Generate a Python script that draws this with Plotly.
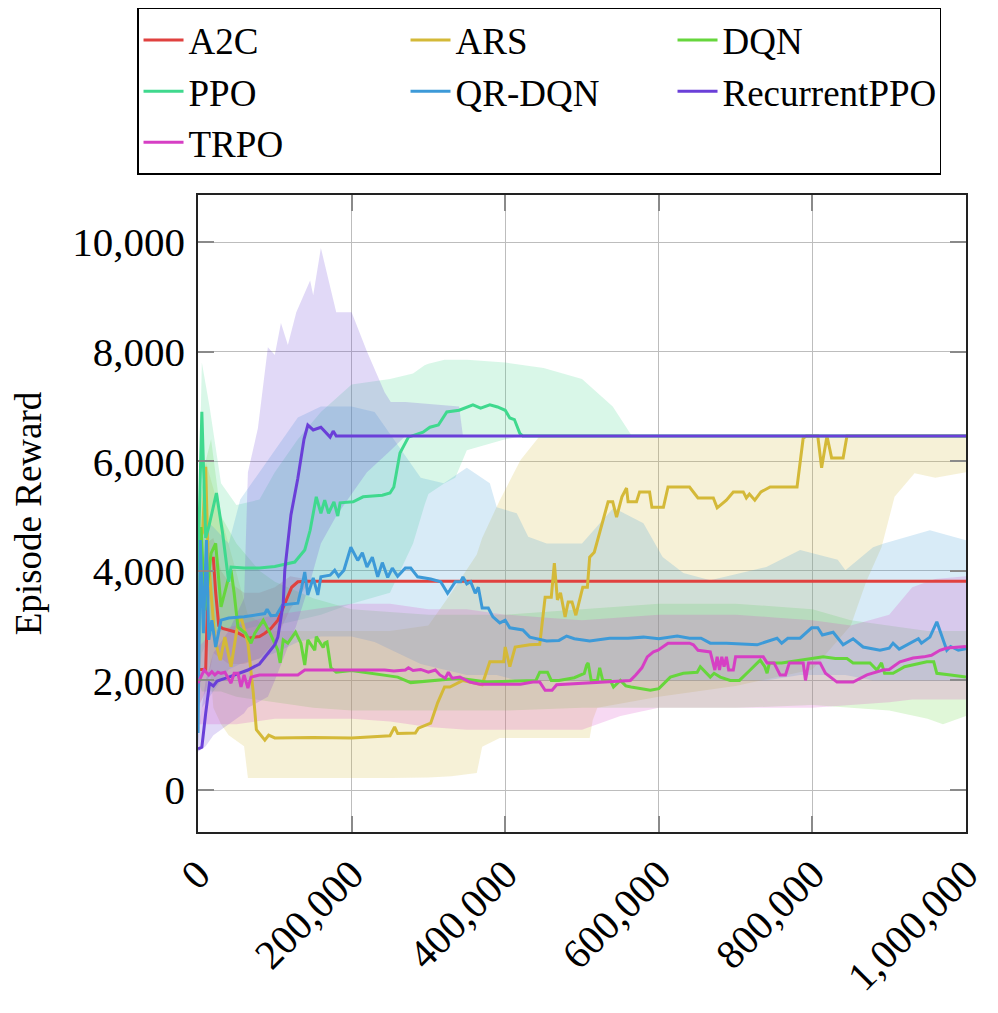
import plotly.graph_objects as go

# step values are in thousands of timesteps, rewards in raw units

# ---- A2C
a2c_steps = [0, 10, 14, 20, 23, 27, 32, 40, 50, 65, 80, 87, 95, 104, 115, 122, 130, 140, 1000]
a2c_mean = [2200, 2200, 4230, 4230, 3600, 3000, 2950, 2920, 2880, 2770, 2800, 2860, 2950, 3100, 3470, 3700, 3800, 3810, 3810]
a2c_band_steps = [0, 10, 20, 30, 40, 60, 80, 100, 120, 140, 150, 1000]
a2c_lo = [1500, 1800, 2500, 2400, 2300, 2300, 2400, 2700, 3300, 3700, 3810, 3810]
a2c_hi = [3000, 4500, 4600, 4000, 3800, 3600, 3600, 3700, 3900, 3850, 3810, 3810]

# ---- ARS
ars_steps = [0, 6, 10, 13, 22, 29, 35, 43, 52, 56,
             65, 72, 76, 87, 92, 100, 150, 200, 250, 256,
             260, 283, 287, 303, 312, 321, 328, 339, 345, 370,
             380, 398, 400, 406, 413, 432, 445, 452, 460, 464,
             468, 472, 478, 482, 487, 492, 501, 507, 510, 516,
             523, 534, 540, 545, 552, 558, 560, 571, 575, 588,
             591, 606, 612, 640, 651, 671, 676, 688, 697, 710,
             714, 718, 725, 733, 745, 780, 788, 792, 807, 812,
             819, 825, 840, 845, 1000]
ars_mean = [4500, 4700, 5900, 4300, 2740, 2370, 2790, 2250, 3050, 3160,
            2680, 1770, 1100, 910, 1000, 950, 960, 950, 990, 1150,
            1030, 1040, 1130, 1220, 1590, 1880, 1880, 1950, 2000, 1920,
            2340, 2340, 2610, 2250, 2610, 2650, 2660, 3520, 3520, 4140,
            3470, 3600, 3160, 3430, 3430, 3190, 3700, 3700, 4250, 4340,
            4690, 5260, 5260, 4980, 5350, 5510, 5260, 5260, 5440, 5440,
            5160, 5160, 5530, 5530, 5330, 5330, 5150, 5290, 5440, 5440,
            5330, 5400, 5290, 5440, 5530, 5530, 6420, 6460, 6460, 5880,
            6460, 6060, 6060, 6460, 6460]
ars_band_steps = [0, 10, 20, 30, 40, 50, 60, 65, 100, 150,
                  200, 250, 300, 315, 330, 363, 370, 393, 420, 445,
                  510, 514, 520, 600, 700, 800, 850, 870, 890, 907,
                  933, 960, 1000]
ars_lo = [3500, 3200, 1500, 1200, 1000, 900, 800, 220, 220, 220,
          220, 220, 230, 240, 250, 310, 790, 950, 950, 950,
          950, 1280, 1500, 1700, 1900, 2200, 3000, 3800, 4430, 5350,
          5780, 5700, 5800]
ars_hi = [5000, 6000, 5500, 5000, 4500, 4000, 3500, 3200, 2900, 2900,
          2900, 2900, 3000, 3300, 3600, 4300, 4600, 5290, 6020, 6460,
          6460, 6460, 6460, 6460, 6460, 6460, 6460, 6460, 6460, 6460,
          6460, 6460, 6460]

# ---- DQN
dqn_steps = [0, 4, 9, 17, 23, 30, 39, 43, 47, 52,
             62, 69, 74, 85, 94, 104, 107, 111, 117, 127,
             134, 139, 143, 152, 154, 163, 165, 168, 173, 180,
             200, 260, 277, 340, 376, 440, 445, 455, 460, 470,
             490, 503, 506, 508, 512, 520, 523, 527, 537, 541,
             550, 557, 564, 589, 600, 615, 632, 650, 654, 667,
             672, 680, 693, 705, 719, 732, 738, 741, 744, 760,
             784, 814, 830, 845, 853, 875, 884, 890, 894, 905,
             920, 949, 958, 962, 980, 1000]
dqn_mean = [2300, 4800, 3280, 4320, 4500, 3340, 3830, 4010, 3600, 2970,
            2860, 2680, 2860, 3100, 2860, 2550, 2320, 2740, 2680, 2880,
            2680, 2280, 2740, 2550, 2800, 2600, 2680, 2700, 2230, 2150,
            2180, 2060, 1960, 2040, 1970, 2000, 2150, 2150, 2000, 2000,
            2050, 2130, 2280, 2320, 2000, 2000, 2230, 2000, 2000, 1880,
            2000, 1900, 1880, 1820, 1850, 2060, 2130, 2150, 2250, 2060,
            2130, 2060, 2000, 2000, 2190, 2370, 2250, 2130, 2320, 2320,
            2370, 2430, 2400, 2400, 2320, 2320, 2190, 2320, 2130, 2130,
            2250, 2340, 2340, 2130, 2100, 2060]
dqn_band_steps = [0, 5, 10, 17, 30, 50, 80, 100, 150, 200,
                  300, 400, 500, 600, 700, 800, 850, 900, 950, 970, 1000]
dqn_lo = [2000, 1800, 1800, 1800, 1800, 1700, 1650, 1600, 1500, 1450,
          1450, 1450, 1500, 1500, 1500, 1550, 1500, 1450, 1300, 1200, 1350]
dqn_hi = [3500, 5500, 6000, 6400, 5000, 4500, 4000, 3800, 3500, 3300,
          3200, 3200, 3300, 3400, 3400, 3300, 3100, 3000, 2900, 2900, 2900]

# ---- PPO
ppo_steps = [0, 5, 10, 14, 24, 32, 40, 43, 60, 80,
             100, 126, 139, 146, 154, 160, 165, 170, 177, 182,
             185, 202, 215, 240, 250, 255, 263, 274, 293, 302,
             313, 324, 340, 358, 368, 380, 390, 400, 406, 412,
             419, 423, 1000]
ppo_mean = [4000, 6900, 4600, 4800, 5420, 4690, 3800, 4070, 4050, 4050,
            4080, 4160, 4380, 4740, 5350, 5050, 5290, 5050, 5260, 5000,
            5240, 5260, 5350, 5380, 5420, 5530, 6150, 6440, 6530, 6620,
            6660, 6900, 6930, 7030, 6970, 7030, 6990, 6930, 6790, 6760,
            6510, 6460, 6460]
ppo_band_steps = [0, 5, 15, 30, 50, 80, 100, 130, 160, 200,
                  250, 280, 295, 300, 321, 335, 350, 400, 425, 450,
                  500, 540, 565]
ppo_lo = [2000, 2500, 2800, 2900, 2900, 3000, 3000, 3100, 3200, 3400,
          3600, 4500, 5200, 5400, 5600, 5700, 6200, 6400, 6460, 6460,
          6460, 6460, 6460]
ppo_hi = [4500, 7800, 7000, 5600, 5200, 5300, 5800, 6400, 6900, 7400,
          7500, 7600, 7750, 7780, 7850, 7850, 7850, 7800, 7750, 7700,
          7500, 7000, 6460]

# ---- QR-DQN
qrdqn_steps = [0, 3, 7, 11, 14, 18, 23, 30, 40, 60,
               87, 90, 95, 102, 110, 130, 135, 139, 143, 150,
               156, 160, 172, 178, 183, 190, 199, 208, 214, 220,
               227, 234, 240, 247, 253, 260, 270, 277, 286, 303,
               316, 325, 328, 335, 342, 345, 350, 355, 361, 365,
               370, 378, 384, 393, 400, 406, 423, 432, 454, 470,
               480, 490, 510, 536, 560, 580, 600, 624, 640, 655,
               667, 688, 728, 740, 754, 760, 768, 784, 799, 807,
               813, 827, 840, 853, 866, 888, 900, 905, 913, 938,
               942, 953, 962, 975, 980, 990, 1000]
qrdqn_mean = [1040, 4560, 2860, 4560, 2740, 3100, 2610, 3100, 3140, 3160,
              3220, 3300, 3180, 3190, 3380, 3410, 3700, 3980, 3560, 3870,
              3560, 3890, 3920, 4010, 3900, 4010, 4430, 4190, 4330, 4070,
              4250, 3890, 4150, 3880, 4050, 3900, 4050, 4050, 3890, 3850,
              3800, 3590, 3650, 3800, 3800, 3890, 3760, 3800, 3590, 3700,
              3320, 3320, 3160, 3050, 3100, 2960, 2920, 2790, 2720, 2730,
              2810, 2760, 2720, 2770, 2770, 2790, 2760, 2810, 2770, 2770,
              2680, 2680, 2650, 2700, 2770, 2680, 2770, 2770, 2960, 2960,
              2830, 2880, 2650, 2760, 2610, 2550, 2590, 2680, 2570, 2760,
              2680, 2790, 3070, 2550, 2620, 2550, 2580]
qrdqn_band_steps = [0, 5, 20, 40, 55, 80, 100, 130, 160, 200,
                    230, 260, 290, 320, 350, 380, 389, 415, 430, 454,
                    500, 541, 580, 605, 632, 667, 740, 784, 833, 843,
                    879, 893, 953, 1000]
qrdqn_lo = [800, 1500, 1800, 2200, 2300, 2400, 2500, 2700, 2800, 2800,
            2700, 2500, 2300, 2200, 2100, 2100, 2100, 2000, 2000, 2000,
            2000, 2000, 2000, 2000, 2000, 2000, 2000, 2100, 2100, 2100,
            2000, 2000, 2000, 2000]
qrdqn_hi = [1500, 5000, 4800, 4500, 5300, 5800, 6200, 6800, 7000, 7000,
            6900, 6300, 5700, 5600, 5880, 5600, 5160, 5050, 4620, 4500,
            4500, 5150, 4870, 4250, 3960, 3830, 4070, 4380, 4200, 4010,
            4430, 4500, 4740, 4560]

# ---- RecurrentPPO
rppo_steps = [0, 5, 10, 15, 20, 25, 40, 65, 80, 91,
              100, 104, 111, 113, 121, 130, 138, 143, 150, 160,
              172, 176, 180, 1000]
rppo_mean = [750, 780, 1400, 1950, 1900, 1990, 2060, 2190, 2300, 2500,
             2650, 2790, 3410, 4010, 5020, 5690, 6400, 6660, 6570, 6620,
             6440, 6550, 6460, 6460]
rppo_band_steps = [0, 10, 20, 40, 60, 65, 78, 91, 100, 108,
                   117, 128, 146, 150, 160, 180, 200, 220, 243, 251,
                   270, 300, 340, 345]
rppo_lo = [700, 800, 1000, 1200, 1400, 1500, 1600, 1700, 2000, 2300,
           2600, 3000, 3800, 4000, 4500, 5000, 5400, 5800, 6100, 6200,
           6460, 6460, 6460, 6460]
rppo_hi = [1000, 2000, 2500, 2900, 3500, 5800, 6600, 8080, 7940, 8520,
           8120, 8720, 9300, 9030, 9890, 8720, 8720, 8000, 7260, 7080,
           7080, 7050, 7000, 6460]

# ---- TRPO
trpo_steps = [0, 8, 14, 18, 22, 26, 30, 35, 43, 47,
              52, 56, 60, 65, 69, 80, 130, 139, 243, 255,
              270, 274, 280, 290, 300, 309, 315, 322, 326, 331,
              341, 354, 367, 420, 436, 445, 452, 461, 467, 510,
              533, 563, 570, 578, 585, 593, 599, 612, 640, 645,
              651, 667, 673, 676, 679, 682, 685, 688, 691, 697,
              700, 736, 741, 750, 758, 765, 770, 788, 791, 795,
              810, 817, 832, 853, 871, 892, 900, 914, 931, 945,
              955, 966, 975, 1000]
trpo_mean = [1950, 2190, 2100, 2160, 2100, 2150, 2130, 2150, 1950, 2130,
             2130, 1880, 2100, 1860, 2060, 2100, 2100, 2190, 2190, 2170,
             2190, 2230, 2180, 2200, 2150, 2190, 2100, 2040, 2150, 2040,
             2060, 1970, 1930, 1930, 1970, 1970, 1820, 1820, 1920, 1950,
             1970, 2000, 2100, 2230, 2430, 2520, 2550, 2680, 2680, 2650,
             2550, 2520, 2190, 2430, 2190, 2430, 2250, 2430, 2190, 2190,
             2430, 2430, 2320, 2320, 2100, 2100, 2320, 2320, 2000, 2320,
             2320, 2130, 1970, 1970, 2100, 2190, 2200, 2340, 2410, 2430,
             2460, 2550, 2590, 2620]
trpo_band_steps = [0, 20, 50, 100, 150, 200, 250, 300, 350, 400,
                   450, 500, 550, 600, 650, 700, 750, 800, 850, 900,
                   930, 960, 1000]
trpo_lo = [1200, 1200, 1200, 1300, 1300, 1300, 1250, 1150, 1100, 1100,
           1100, 1100, 1350, 1500, 1500, 1500, 1500, 1500, 1550, 1600,
           1650, 1650, 1650]
trpo_hi = [2600, 2900, 3000, 3200, 3300, 3400, 3400, 3300, 3300, 3200,
           3150, 3100, 3150, 3200, 3200, 3200, 3150, 3100, 3000, 3200,
           3700, 3850, 3900]

series = [
    ("A2C", (224, 65, 63), a2c_steps, a2c_mean, a2c_band_steps, a2c_lo, a2c_hi),
    ("ARS", (212, 185, 56), ars_steps, ars_mean, ars_band_steps, ars_lo, ars_hi),
    ("DQN", (102, 214, 60), dqn_steps, dqn_mean, dqn_band_steps, dqn_lo, dqn_hi),
    ("PPO", (63, 217, 142), ppo_steps, ppo_mean, ppo_band_steps, ppo_lo, ppo_hi),
    ("QR-DQN", (61, 154, 216), qrdqn_steps, qrdqn_mean, qrdqn_band_steps, qrdqn_lo, qrdqn_hi),
    ("RecurrentPPO", (106, 63, 216), rppo_steps, rppo_mean, rppo_band_steps, rppo_lo, rppo_hi),
    ("TRPO", (214, 63, 196), trpo_steps, trpo_mean, trpo_band_steps, trpo_lo, trpo_hi),
]

FONT = "Liberation Serif"

fig = go.Figure()

# shaded bands first, so every mean line sits on top
for name, rgb, _, _, bx, lo, hi in series:
    xs = [v * 1000 for v in bx]
    fig.add_trace(go.Scatter(
        x=xs + xs[::-1], y=hi + lo[::-1],
        fill="toself", mode="lines", line=dict(width=0),
        fillcolor="rgba(%d,%d,%d,0.2)" % rgb,
        hoverinfo="skip", showlegend=False,
    ))

for name, rgb, sx, sy, _, _, _ in series:
    fig.add_trace(go.Scatter(
        x=[v * 1000 for v in sx], y=sy,
        mode="lines", name=name,
        line=dict(color="rgb(%d,%d,%d)" % rgb, width=3),
    ))

axis_common = dict(
    showgrid=True, gridcolor="#bdbdbd", gridwidth=1.2,
    zeroline=False, showline=True, linecolor="#222", linewidth=1.6,
    mirror="ticks", ticks="inside", ticklen=16, tickcolor="#8a8a8a", tickwidth=1.5,
    tickfont=dict(family=FONT, size=41, color="black"),
    tickformat=",d",
)

# the page body adds an 8px margin, so the figure is sized a little smaller
fig.update_layout(
    width=990, height=1005,
    margin=dict(l=190, r=32, t=187, b=181, autoexpand=False),
    plot_bgcolor="white", paper_bgcolor="white",
    xaxis=dict(range=[0, 1000000], tickvals=[0, 200000, 400000, 600000, 800000, 1000000],
               tickangle=-45, ticklabelstandoff=0, **axis_common),
    yaxis=dict(range=[-766, 10858], tickvals=[0, 2000, 4000, 6000, 8000, 10000],
               ticklabelstandoff=3,
               title=dict(text="Episode Reward", font=dict(family=FONT, size=37, color="black"),
                          standoff=26),
               **axis_common),
    legend=dict(
        orientation="h", x=-0.0794, y=1.2936, xanchor="left", yanchor="top",
        font=dict(family=FONT, size=37, color="black"),
        bordercolor="black", borderwidth=1.5, bgcolor="white",
        entrywidth=212, entrywidthmode="pixels", itemwidth=40,
        tracegroupgap=0,
    ),
)

fig.write_html("out.html")
